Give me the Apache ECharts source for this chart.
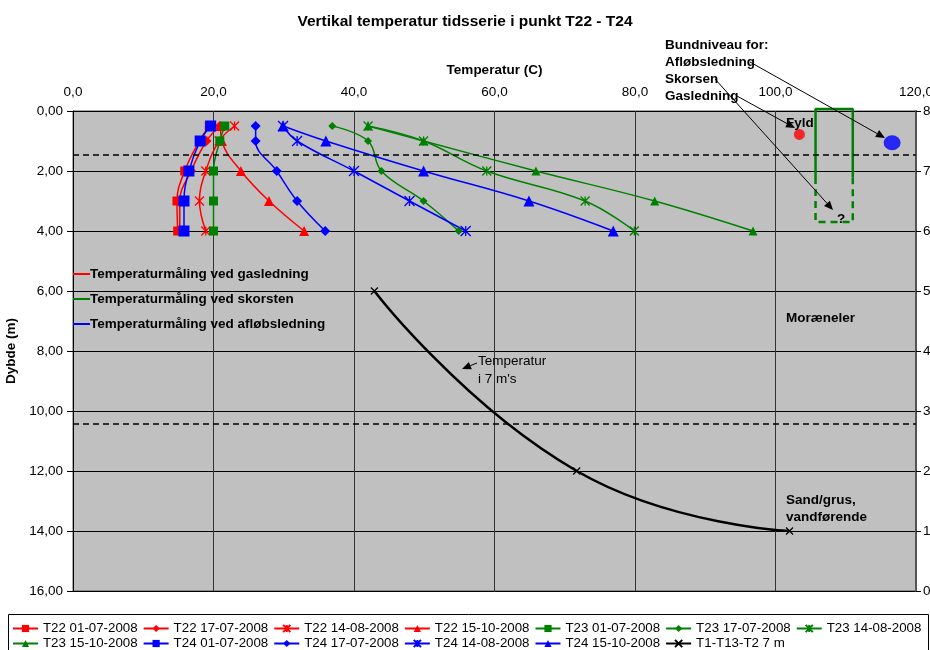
<!DOCTYPE html>
<html><head><meta charset="utf-8">
<script src="https://cdn.jsdelivr.net/npm/echarts@6/dist/echarts.min.js"></script>
<style>html,body{margin:0;padding:0;background:#fff}#c{width:930px;height:650px}</style>
</head><body><div id="c"></div>
<script>
const FONT = '"Liberation Sans", Arial, sans-serif';
const depths = [0.5, 1.0, 2.0, 3.0, 4.0];
const t22_0107 = [19.4, 18.0, 15.9, 14.8, 14.9];
const t22_1707 = [20.9, 19.0, 16.8, 15.2, 15.2];
const t22_1408 = [23.0, 20.8, 18.9, 18.0, 18.9];
const t22_1510 = [21.0, 21.2, 23.9, 27.9, 32.9];
const t23_0107 = [21.6, 20.9, 20.0, 20.0, 20.0];
const t23_1707 = [36.9, 42.0, 43.9, 49.9, 54.9];
const t23_1408 = [42.0, 49.9, 58.9, 72.9, 79.9];
const t23_1510 = [42.0, 49.9, 65.9, 82.8, 96.8];
const t24_0107 = [19.6, 18.1, 16.5, 15.8, 15.8];
const t24_1707 = [26.0, 26.0, 29.0, 31.9, 35.9];
const t24_1408 = [29.9, 31.9, 40.0, 47.9, 55.9];
const t24_1510 = [29.9, 36.0, 49.9, 64.9, 76.9];
const t7m_temp = [42.9, 71.7, 102.0];
const t7m_depth = [6.0, 12.0, 14.0];
const refDepths = [1.47, 10.43];
const fyldPoint = [103.4, 0.78];
const afloebPoint = [116.6, 1.06];
const boxTemps = [105.7, 111.0];
const boxDepths = [-0.07, 2.2, 3.7];

const RED = '#FF0000', GREEN = '#008000', BLUE = '#0000FF';
const ASTER = 'path://M0,0L10,10M10,0L0,10M5,0L5,10';
const XMARK = 'path://M0,0L10,10M10,0L0,10';
const FS = 13.5;

function pts(temps, ds) { return temps.map((t, i) => [t, ds[i]]); }
function ser(name, temps, color, symbol, size) {
  const s = {
    name, type: 'line', smooth: 0.4, data: pts(temps, depths),
    symbol, symbolSize: size,
    lineStyle: { color, width: 1.5 },
    itemStyle: { color },
    emphasis: { disabled: true }
  };
  if (symbol === ASTER) s.itemStyle = { color, borderColor: color, borderWidth: 1.3 };
  return s;
}

const series = [
  ser('T22 01-07-2008', t22_0107, RED, 'rect', 9),
  ser('T22 17-07-2008', t22_1707, RED, 'diamond', 10),
  ser('T22 14-08-2008', t22_1408, RED, ASTER, 9),
  ser('T22 15-10-2008', t22_1510, RED, 'triangle', 10),
  ser('T23 01-07-2008', t23_0107, GREEN, 'rect', 9),
  ser('T23 17-07-2008', t23_1707, GREEN, 'diamond', 8),
  ser('T23 14-08-2008', t23_1408, GREEN, ASTER, 9),
  ser('T23 15-10-2008', t23_1510, GREEN, 'triangle', 9),
  ser('T24 01-07-2008', t24_0107, BLUE, 'rect', 11),
  ser('T24 17-07-2008', t24_1707, BLUE, 'diamond', 10),
  ser('T24 14-08-2008', t24_1408, BLUE, ASTER, 10),
  ser('T24 15-10-2008', t24_1510, BLUE, 'triangle', 11),
  {
    name: 'T1-T13-T2 7 m', type: 'line', smooth: 0.5, data: pts(t7m_temp, t7m_depth),
    symbol: XMARK, symbolSize: 7,
    lineStyle: { color: '#000', width: 2.5 },
    itemStyle: { color: '#000', borderColor: '#000', borderWidth: 1.2 },
    emphasis: { disabled: true }
  },
  {
    name: 'refs', type: 'line', data: [], silent: true,
    markLine: {
      silent: true, symbol: 'none', label: { show: false },
      lineStyle: { color: '#000', type: [6, 4], width: 1.5 },
      data: refDepths.map(d => ({ yAxis: d }))
    }
  },
  {
    name: 'boxSolid', type: 'line', clip: false, symbol: 'none', silent: true,
    data: [[boxTemps[0], boxDepths[1]], [boxTemps[0], boxDepths[0]], [boxTemps[1], boxDepths[0]], [boxTemps[1], boxDepths[1]]],
    lineStyle: { color: GREEN, width: 2.5 }
  },
  {
    name: 'boxDashed', type: 'line', clip: false, symbol: 'none', silent: true,
    data: [[boxTemps[0], boxDepths[1]], [boxTemps[0], boxDepths[2]], [boxTemps[1], boxDepths[2]], [boxTemps[1], boxDepths[1]]],
    lineStyle: { color: GREEN, width: 2.5, type: [7, 5] }
  },
  {
    name: 'fyld', type: 'scatter', data: [fyldPoint], symbol: 'circle', symbolSize: 11,
    itemStyle: { color: RED }, silent: true
  },
  {
    name: 'afloeb', type: 'scatter', data: [afloebPoint], symbol: 'circle', symbolSize: [17, 15],
    itemStyle: { color: BLUE }, silent: true
  }
];

const names = series.slice(0, 13).map(s => s.name);
const legendCommon = {
  left: 12, width: 916, orient: 'horizontal', itemWidth: 25, itemHeight: 9, itemGap: 5,
  textStyle: { fontSize: 13.3, color: '#000', fontFamily: FONT }, padding: 0,
  selectedMode: false
};

const fmt1 = v => v.toFixed(1).replace('.', ',');
const fmt2 = v => v.toFixed(2).replace('.', ',');

function arrow(x1, y1, x2, y2) {
  const a = Math.atan2(y2 - y1, x2 - x1), L = 9, W = 4;
  const bx = x2 - L * Math.cos(a), by = y2 - L * Math.sin(a);
  return [
    { type: 'line', shape: { x1, y1, x2: bx, y2: by }, style: { stroke: '#000', lineWidth: 1 }, silent: true, z: 60 },
    { type: 'polygon', shape: { points: [[x2, y2], [bx + W * Math.sin(a), by - W * Math.cos(a)], [bx - W * Math.sin(a), by + W * Math.cos(a)]] }, style: { fill: '#000' }, silent: true, z: 60 }
  ];
}
function txt(x, y, text, bold) {
  return { type: 'text', x, y, silent: true, z: 50,
    style: { text, fill: '#000', font: (bold ? 'bold ' : '') + FS + 'px ' + FONT, verticalAlign: 'middle', textVerticalAlign: 'middle' } };
}

const graphic = [
  { type: 'rect', shape: { x: 8.5, y: 614.5, width: 920, height: 40 }, style: { fill: null, stroke: '#000', lineWidth: 1 }, silent: true },
  { type: 'line', shape: { x1: 73, y1: 274, x2: 90, y2: 274 }, style: { stroke: RED, lineWidth: 2 }, z: 50 },
  { type: 'line', shape: { x1: 73, y1: 299, x2: 90, y2: 299 }, style: { stroke: GREEN, lineWidth: 2 }, z: 50 },
  { type: 'line', shape: { x1: 73, y1: 324, x2: 90, y2: 324 }, style: { stroke: BLUE, lineWidth: 2 }, z: 50 },
  txt(90, 274, 'Temperaturmåling ved gasledning', true),
  txt(90, 299, 'Temperaturmåling ved skorsten', true),
  txt(90, 324, 'Temperaturmåling ved afløbsledning', true),
  txt(665, 45, 'Bundniveau for:', true),
  txt(665, 62, 'Afløbsledning', true),
  txt(665, 79, 'Skorsen', true),
  txt(665, 96, 'Gasledning', true),
  txt(786, 123, 'Fyld', true),
  txt(786, 318, 'Moræneler', true),
  txt(786, 500, 'Sand/grus,', true),
  txt(786, 517, 'vandførende', true),
  txt(837, 219, '?', true),
  txt(478, 361, 'Temperatur', false),
  txt(478, 379, "i 7 m's", false),
  ...arrow(750, 62, 885, 138),
  ...arrow(715, 79, 833, 210),
  ...arrow(737, 96, 795, 128),
  ...arrow(477, 363, 462, 369)
];

const option = {
  backgroundColor: '#fff',
  animation: false,
  textStyle: { fontFamily: FONT },
  title: { text: 'Vertikal temperatur tidsserie i punkt T22 - T24', left: 'center', top: 9,
    textStyle: { fontSize: 15.5, fontWeight: 'bold', color: '#000', fontFamily: FONT } },
  grid: { left: 73, right: 14, top: 111, bottom: 59, show: true, backgroundColor: '#C0C0C0', borderColor: '#555', borderWidth: 1,
    containLabel: false, outerBoundsMode: 'none' },
  legend: [
    Object.assign({ top: 622, data: names.slice(0, 7) }, legendCommon),
    Object.assign({ top: 637, data: names.slice(7) }, legendCommon)
  ],
  xAxis: {
    type: 'value', position: 'top', min: 0, max: 120, interval: 20,
    name: 'Temperatur (C)', nameLocation: 'middle', nameGap: 34,
    nameTextStyle: { fontSize: FS, fontWeight: 'bold', color: '#000', fontFamily: FONT },
    axisLine: { show: false }, axisTick: { show: false },
    axisLabel: { formatter: fmt1, margin: 12, color: '#000', fontSize: FS, fontFamily: FONT },
    splitLine: { show: true, lineStyle: { color: '#333', width: 1 } }
  },
  yAxis: [
    {
      type: 'value', inverse: true, min: 0, max: 16, interval: 2,
      name: 'Dybde (m)', nameLocation: 'middle', nameGap: 49, nameRotate: 90,
      nameTextStyle: { fontSize: FS, fontWeight: 'bold', color: '#000', fontFamily: FONT },
      axisLine: { show: true, lineStyle: { color: '#000', width: 1 } },
      axisTick: { show: true, length: 6, lineStyle: { color: '#000' } },
      axisLabel: { formatter: fmt2, margin: 10, color: '#000', fontSize: FS, fontFamily: FONT },
      splitLine: { show: true, lineStyle: { color: '#000', width: 1 } }
    },
    {
      type: 'value', position: 'right', min: 0, max: 8, interval: 1,
      axisLine: { show: true, lineStyle: { color: '#555', width: 2 } },
      axisTick: { show: true, length: 5, lineStyle: { color: '#000' } },
      axisLabel: { margin: 7, color: '#000', fontSize: FS, fontFamily: FONT },
      splitLine: { show: false }
    }
  ],
  series,
  graphic
};
const chart = echarts.init(document.getElementById('c'), null, { renderer: 'canvas' });
chart.setOption(option);
</script></body></html>
